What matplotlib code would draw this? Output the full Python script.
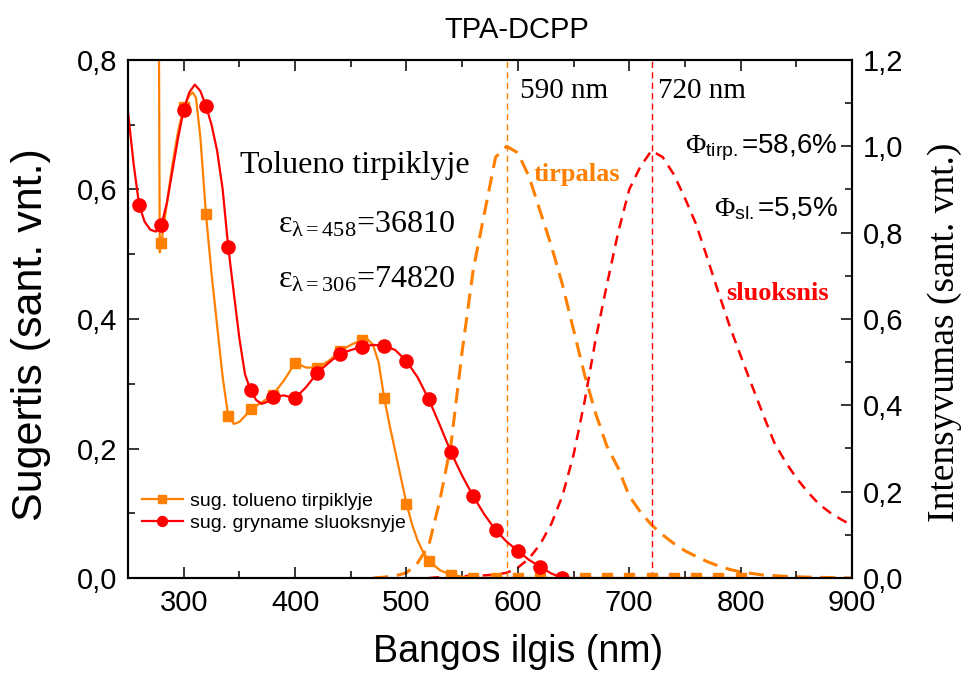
import numpy as np
import matplotlib
matplotlib.use("Agg")
import matplotlib.pyplot as plt
from matplotlib import ticker

plt.rcParams['font.family'] = ['Liberation Sans', 'DejaVu Sans']
plt.rcParams['mathtext.fontset'] = 'custom'
plt.rcParams['mathtext.rm'] = 'Liberation Serif'
plt.rcParams['mathtext.it'] = 'Liberation Serif:italic'
plt.rcParams['mathtext.sf'] = 'Liberation Sans'

ORANGE = '#FF8000'
RED = '#FF0000'
SERIF = ['Liberation Serif', 'DejaVu Serif']

# absorption in toluene (left axis)
tol_nm = [277, 278.5, 280, 285, 290, 295, 300, 305, 308, 311, 315, 320, 325, 330, 335, 340,
          345, 350, 355, 360, 370, 380, 390, 400, 410, 420, 430, 440, 450, 460, 465, 470,
          475, 480, 485, 490, 495, 500, 505, 510, 515, 520, 530, 540, 550, 560, 580, 600,
          620, 640, 660, 680, 700, 720, 740, 760, 780, 800]
tol_abs = [1.20, 0.503, 0.518, 0.58, 0.64, 0.69, 0.727, 0.745, 0.75, 0.742, 0.68, 0.562, 0.47,
           0.39, 0.31, 0.25, 0.238, 0.241, 0.25, 0.261, 0.271, 0.283, 0.305, 0.332, 0.325,
           0.325, 0.335, 0.35, 0.36, 0.368, 0.369, 0.36, 0.333, 0.278, 0.235, 0.195, 0.155,
           0.115, 0.083, 0.058, 0.04, 0.027, 0.012, 0.005, 0.002, 0.0, 0.0, 0.0,
           0.0, 0.0, 0.0, 0.0, 0.0, 0.0, 0.0, 0.0, 0.0, 0.0]
tol_marks = [280, 300, 320, 340, 360, 380, 400, 420, 440, 460, 480, 500, 520, 540, 560, 580,
             600, 620, 640, 660, 680, 700, 720, 740, 760, 780, 800]

# absorption in neat film (left axis)
film_nm = [250, 255, 260, 265, 270, 275, 280, 285, 290, 295, 300, 305, 310, 315, 320, 325,
           330, 335, 340, 345, 350, 355, 360, 365, 370, 375, 380, 390, 400, 410, 420, 430,
           440, 450, 460, 470, 480, 490, 500, 510, 520, 530, 540, 550, 560, 570, 580, 590,
           600, 610, 620, 630, 640]
film_abs = [0.72, 0.64, 0.576, 0.55, 0.538, 0.535, 0.545, 0.58, 0.63, 0.68, 0.723, 0.75, 0.762,
            0.752, 0.729, 0.70, 0.66, 0.60, 0.511, 0.44, 0.37, 0.315, 0.29, 0.275, 0.269,
            0.272, 0.28, 0.282, 0.2775, 0.295, 0.317, 0.332, 0.346, 0.352, 0.357, 0.36,
            0.359, 0.352, 0.335, 0.31, 0.276, 0.236, 0.194, 0.158, 0.126, 0.098, 0.074, 0.056,
            0.042, 0.028, 0.0175, 0.007, 0.0]
film_marks = [260, 280, 300, 320, 340, 360, 380, 400, 420, 440, 460, 480, 500, 520, 540, 560,
              580, 600, 620, 640]

# photoluminescence (right axis)
pl_sol_nm = [470, 480, 490, 500, 510, 520, 530, 540, 550, 560, 570, 580, 590, 600, 610, 620,
             630, 640, 650, 660, 670, 680, 690, 700, 710, 720, 730, 740, 750, 760, 770, 780,
             790, 800, 820, 840, 860, 880, 900]
pl_sol = [0.0, 0.002, 0.005, 0.012, 0.035, 0.075, 0.18, 0.31, 0.525, 0.715, 0.845, 0.975, 1.0,
          0.985, 0.93, 0.85, 0.77, 0.68, 0.575, 0.47, 0.38, 0.305, 0.255, 0.19, 0.153, 0.123,
          0.1, 0.08, 0.063, 0.05, 0.038, 0.028, 0.02, 0.014, 0.007, 0.004, 0.002, 0.001, 0.0]

pl_film_nm = [520, 530, 540, 550, 560, 570, 580, 590, 600, 610, 620, 630, 640, 650, 660, 670,
              680, 690, 700, 710, 720, 730, 740, 750, 760, 770, 780, 790, 800, 810, 820, 830,
              840, 850, 860, 870, 880, 890, 900]
pl_film = [0.0, 0.002, 0.003, 0.004, 0.005, 0.006, 0.008, 0.012, 0.024, 0.045, 0.078, 0.125,
           0.19, 0.285, 0.41, 0.555, 0.68, 0.80, 0.90, 0.953, 0.99, 0.975, 0.935, 0.88, 0.82,
           0.742, 0.662, 0.585, 0.515, 0.447, 0.38, 0.315, 0.27, 0.232, 0.20, 0.172, 0.152,
           0.136, 0.122]

peak_sol = 590
peak_film = 720


def comma(v, pos):
    return f'{v:.1f}'.replace('.', ',')


fig = plt.figure(figsize=(9.67, 6.73), dpi=100)
ax = fig.add_axes([128 / 967, 95 / 673, 724 / 967, 518 / 673])
ax2 = ax.twinx()
ax.set_zorder(ax2.get_zorder() + 1)
ax.patch.set_visible(False)

# emission spectra
ax2.plot(pl_sol_nm, pl_sol, color=ORANGE, lw=2.2, dashes=(5, 2.8))
ax2.plot(pl_film_nm, pl_film, color=RED, lw=1.8, dashes=(4.2, 3.0))
ax2.axvline(peak_sol, color=ORANGE, lw=1.0, dashes=(4.5, 3))
ax2.axvline(peak_film, color=RED, lw=1.0, dashes=(4.5, 3))

# absorption spectra
tol_idx = [tol_nm.index(w) for w in tol_marks]
film_idx = [film_nm.index(w) for w in film_marks]
ax.plot(tol_nm, tol_abs, color=ORANGE, lw=1.6, marker='s', ms=7.5, markevery=tol_idx,
        label='sug. tolueno tirpiklyje')
ax.plot(film_nm, film_abs, color=RED, lw=1.6, marker='o', ms=9.5, markevery=film_idx,
        label='sug. gryname sluoksnyje')

ax.set_xlim(250, 900)
ax.set_ylim(0, 0.8)
ax2.set_ylim(0, 1.2)

ax.xaxis.set_major_locator(ticker.MultipleLocator(100))
ax.xaxis.set_minor_locator(ticker.MultipleLocator(50))
ax.yaxis.set_major_locator(ticker.MultipleLocator(0.2))
ax.yaxis.set_minor_locator(ticker.MultipleLocator(0.1))
ax2.yaxis.set_major_locator(ticker.MultipleLocator(0.2))
ax2.yaxis.set_minor_locator(ticker.MultipleLocator(0.1))
ax.yaxis.set_major_formatter(ticker.FuncFormatter(comma))
ax2.yaxis.set_major_formatter(ticker.FuncFormatter(comma))
ax.xaxis.set_major_formatter(ticker.FuncFormatter(lambda v, p: '' if v < 300 else f'{v:.0f}'))

ax.tick_params(which='both', direction='in', top=True, right=False, width=1.1,
               labelsize=21, pad=8)
ax.tick_params(which='major', length=8)
ax.tick_params(which='minor', length=5)
ax2.tick_params(which='both', direction='in', width=1.1, labelsize=21, pad=8)
ax2.tick_params(which='major', length=8)
ax2.tick_params(which='minor', length=5)
for a in (ax, ax2):
    for s in a.spines.values():
        s.set_linewidth(1.5)

fig.text(31 / 967, 1 - 335 / 673, 'Sugertis (sant. vnt.)', fontsize=31, rotation=90,
         ha='center', va='center')
fig.text(945 / 967, 1 - 332 / 673, 'Intensyvumas (sant. vnt.)', fontsize=27, family=SERIF,
         rotation=90, ha='center', va='center')
fig.text(518 / 967, 1 - 652 / 673, 'Bangos ilgis (nm)', fontsize=27, ha='center', va='center')
fig.text(517 / 967, 1 - 30 / 673, 'TPA-DCPP', fontsize=21, ha='center', va='center')

# annotations
ax.text(350.5, 0.625, 'Tolueno tirpiklyje', family=SERIF, fontsize=23, va='baseline')
ax.text(384.5, 0.534, r'$\mathrm{ε}_{\mathrm{λ{=}458}}$=36810', family=SERIF, fontsize=23,
        va='baseline')
ax.text(384.5, 0.449, r'$\mathrm{ε}_{\mathrm{λ{=}306}}$=74820', family=SERIF, fontsize=23,
        va='baseline')
ax2.text(602, 1.112, '590 nm', family=SERIF, fontsize=21, va='baseline')
ax2.text(726, 1.112, '720 nm', family=SERIF, fontsize=21, va='baseline')
ax2.text(614.5, 0.92, 'tirpalas', family=SERIF, fontsize=19, weight='bold', color=ORANGE,
         va='baseline')
ax2.text(787, 0.645, 'sluoksnis', family=SERIF, fontsize=19, weight='bold', color=RED,
         va='baseline')
ax2.text(887, 0.985, r'$\mathrm{Φ}_{\mathsf{tirp.}}$=58,6%', fontsize=20, ha='right',
         va='baseline')
ax2.text(887, 0.839, r'$\mathrm{Φ}_{\mathsf{sl.}}$=5,5%', fontsize=20, ha='right',
         va='baseline')

ax.legend(loc='upper left', bbox_to_anchor=(0.019, 0.165), frameon=False, fontsize=14,
          handlelength=2.1, handletextpad=0.4, labelspacing=0.2, borderpad=0,
          borderaxespad=0, markerscale=0.75)

fig.savefig('out.png', dpi=100)
